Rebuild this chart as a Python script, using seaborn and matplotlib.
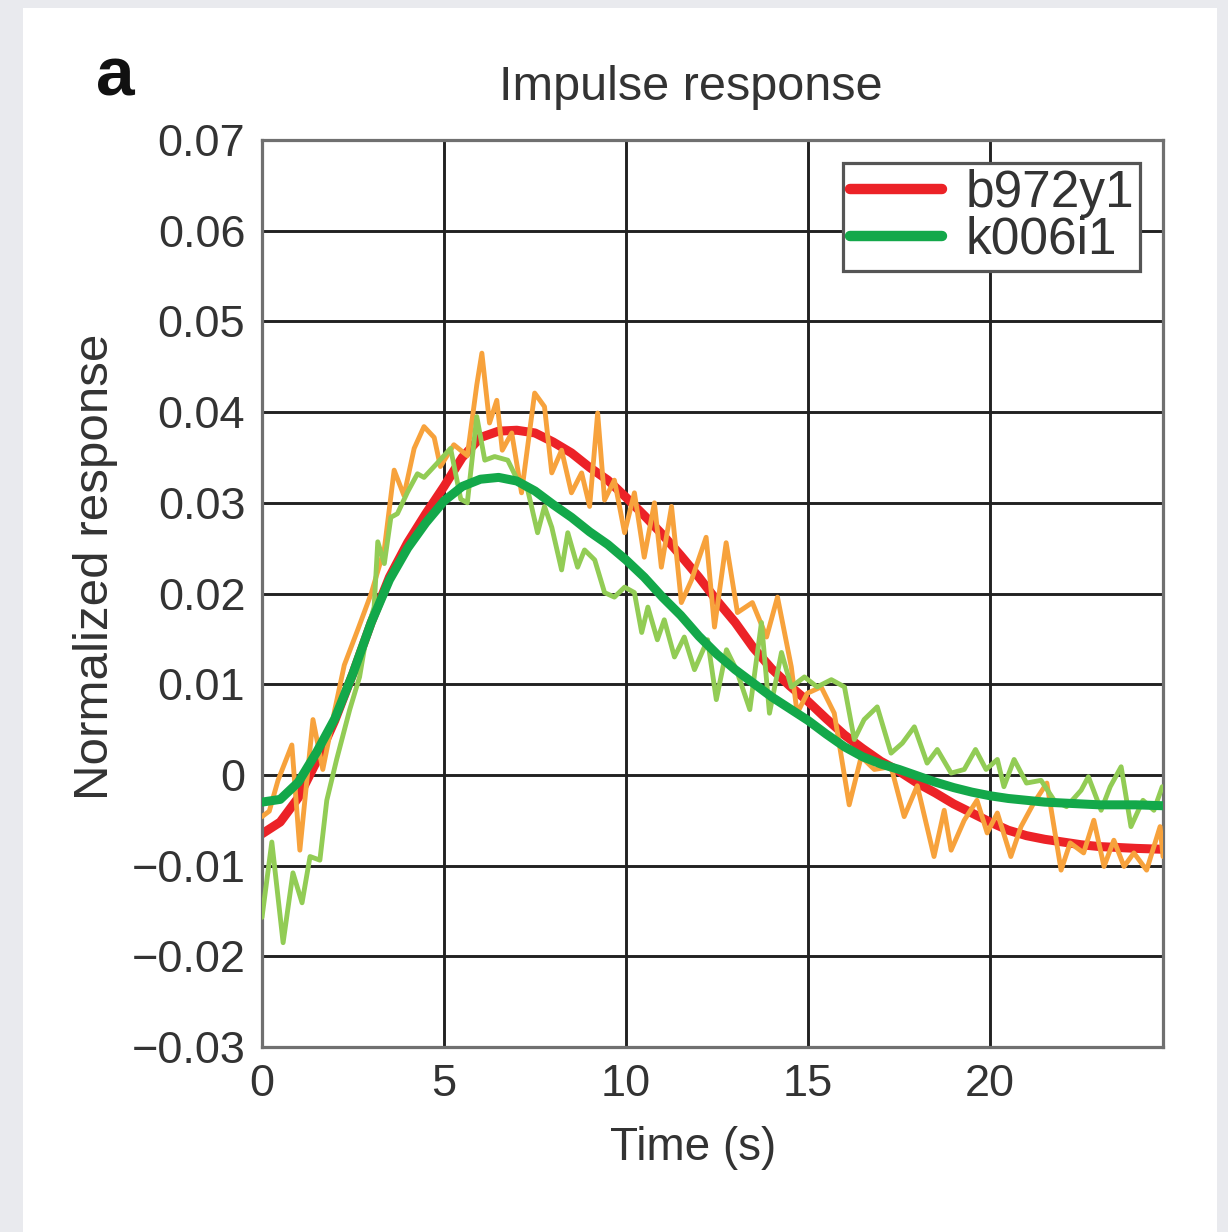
import numpy as np
import pandas as pd
import matplotlib
matplotlib.use("Agg")
import matplotlib.pyplot as plt
from matplotlib.patches import Rectangle
import seaborn as sns

# ---------------- data ----------------
fit_t = [0, 0.5, 1.0, 1.5, 2.0, 2.5, 3.0, 3.5, 4.0, 4.5, 5.0, 5.5, 6.0, 6.5, 7.0,
         7.5, 8.0, 8.5, 9.0, 9.5, 10, 10.5, 11, 11.5, 12, 12.5, 13, 13.5, 14, 14.5,
         15, 15.5, 16, 16.5, 17, 17.5, 18, 18.5, 19, 19.5, 20, 20.5, 21, 21.5, 22,
         22.5, 23, 23.5, 24, 24.75]
fit_b972y1 = [-0.0065, -0.0052, -0.0025, 0.0015, 0.0060, 0.0112, 0.0168, 0.0218, 0.0256,
              0.0288, 0.0318, 0.0350, 0.0372, 0.0379, 0.0380, 0.0377, 0.0367, 0.0355,
              0.0339, 0.0325, 0.0306, 0.0286, 0.0265, 0.0242, 0.0218, 0.0192, 0.0168,
              0.0140, 0.0117, 0.0098, 0.0081, 0.0062, 0.0044, 0.0029, 0.0015, 0.0004,
              -0.0009, -0.0020, -0.0032, -0.0042, -0.0052, -0.0061, -0.0067, -0.0071,
              -0.0074, -0.0077, -0.0079, -0.0080, -0.0081, -0.0082]
fit_k006i1 = [-0.0030, -0.0027, -0.0008, 0.0025, 0.0062, 0.0112, 0.0168, 0.0215, 0.0250,
              0.0278, 0.0302, 0.0318, 0.0326, 0.0328, 0.0324, 0.0313, 0.0298, 0.0284,
              0.0268, 0.0254, 0.0237, 0.0218, 0.0196, 0.0176, 0.0153, 0.0133, 0.0116,
              0.0101, 0.0086, 0.0073, 0.0060, 0.0045, 0.0031, 0.0020, 0.0012, 0.0006,
              -0.0001, -0.0008, -0.0014, -0.0019, -0.0023, -0.0026, -0.0028, -0.0030,
              -0.0031, -0.0032, -0.0033, -0.0033, -0.0033, -0.0034]

raw_b_t = [0.0, 0.2, 0.44, 0.82, 1.04, 1.4, 1.67, 1.99, 2.26, 2.63, 3.0, 3.36, 3.63, 3.9,
           4.18, 4.45, 4.73, 4.9, 5.27, 5.64, 5.9, 6.04, 6.25, 6.45, 6.6, 6.86, 7.13,
           7.49, 7.76, 7.96, 8.23, 8.5, 8.78, 9.0, 9.22, 9.41, 9.68, 9.96, 10.23, 10.5,
           10.78, 10.97, 11.25, 11.52, 11.8, 12.2, 12.43, 12.75, 13.06, 13.47, 13.86,
           14.16, 14.54, 14.7, 14.98, 15.36, 15.72, 16.13, 16.46, 16.82, 17.28, 17.64,
           18.0, 18.46, 18.74, 18.93, 19.29, 19.64, 19.92, 20.2, 20.57, 20.85, 21.2,
           21.56, 21.95, 22.2, 22.57, 22.85, 23.13, 23.4, 23.68, 23.95, 24.3, 24.67, 24.75]
raw_b_y = [-0.0046, -0.0040, -0.0006, 0.0033, -0.0083, 0.0061, 0.0006, 0.0070, 0.0121,
           0.0160, 0.0200, 0.0249, 0.0336, 0.0308, 0.0360, 0.0384, 0.0372, 0.0340, 0.0364,
           0.0352, 0.0430, 0.0465, 0.0388, 0.0413, 0.0358, 0.0377, 0.0311, 0.0421, 0.0406,
           0.0333, 0.0358, 0.0311, 0.0333, 0.0296, 0.0399, 0.0303, 0.0325, 0.0267, 0.0311,
           0.0240, 0.0300, 0.0229, 0.0296, 0.0190, 0.0215, 0.0262, 0.0163, 0.0256, 0.0179,
           0.0190, 0.0152, 0.0196, 0.0119, 0.0068, 0.0090, 0.0097, 0.0068, -0.0033, 0.0020,
           0.0006, 0.0009, -0.0046, -0.0012, -0.0090, -0.0039, -0.0083, -0.0050, -0.0028,
           -0.0064, -0.0042, -0.0090, -0.0057, -0.0031, -0.0009, -0.0105, -0.0075, -0.0086,
           -0.0050, -0.0101, -0.0072, -0.0101, -0.0086, -0.0105, -0.0057, -0.0090]

raw_k_t = [0.0, 0.27, 0.58, 0.85, 1.1, 1.32, 1.59, 1.78, 2.05, 2.41, 2.68, 2.9, 3.08, 3.18,
           3.36, 3.54, 3.72, 4.0, 4.27, 4.45, 4.82, 5.18, 5.46, 5.64, 5.9, 6.12, 6.39, 6.75,
           7.02, 7.3, 7.57, 7.76, 7.96, 8.23, 8.4, 8.67, 8.86, 9.14, 9.41, 9.68, 9.96,
           10.23, 10.43, 10.6, 10.86, 11.05, 11.33, 11.6, 11.88, 12.24, 12.48, 12.76, 13.03,
           13.4, 13.72, 13.94, 14.27, 14.54, 14.9, 15.25, 15.64, 16.0, 16.27, 16.54, 16.9,
           17.28, 17.59, 17.92, 18.27, 18.55, 18.93, 19.29, 19.6, 19.89, 20.2, 20.38, 20.66,
           21.0, 21.4, 21.76, 22.1, 22.5, 22.7, 23.05, 23.3, 23.6, 23.87, 24.2, 24.5, 24.73]
raw_k_y = [-0.0157, -0.0074, -0.0185, -0.0108, -0.0141, -0.0090, -0.0094, -0.0028, 0.0017,
           0.0072, 0.0108, 0.0160, 0.0185, 0.0257, 0.0233, 0.0284, 0.0288, 0.0312, 0.0332,
           0.0328, 0.0344, 0.0360, 0.0304, 0.0300, 0.0395, 0.0347, 0.0351, 0.0347, 0.0325,
           0.0314, 0.0267, 0.0296, 0.0273, 0.0226, 0.0267, 0.0229, 0.0248, 0.0237, 0.0201,
           0.0196, 0.0207, 0.0201, 0.0157, 0.0185, 0.0149, 0.0171, 0.0130, 0.0152, 0.0116,
           0.0149, 0.0083, 0.0138, 0.0116, 0.0072, 0.0168, 0.0068, 0.0135, 0.0097, 0.0108,
           0.0097, 0.0105, 0.0097, 0.0039, 0.0061, 0.0075, 0.0024, 0.0035, 0.0053, 0.0013,
           0.0028, 0.0002, 0.0006, 0.0028, 0.0006, 0.0017, -0.0013, 0.0017, -0.0009, -0.0006,
           -0.0028, -0.0035, -0.0017, -0.0002, -0.0039, -0.0013, 0.0009, -0.0057, -0.0028,
           -0.0039, -0.0013]

labels = ["b972y1", "k006i1"]
x_ticks = [0, 5, 10, 15, 20]
y_ticks = [-0.03, -0.02, -0.01, 0, 0.01, 0.02, 0.03, 0.04, 0.05, 0.06, 0.07]
y_tick_labels = ["\u22120.03", "\u22120.02", "\u22120.01", "0", "0.01", "0.02", "0.03",
                 "0.04", "0.05", "0.06", "0.07"]

# ---------------- style ----------------
sns.set_theme(style="white")
plt.rcParams["font.family"] = ["Liberation Sans", "DejaVu Sans"]

C_RAW_B = "#f7a23c"
C_RAW_K = "#92cc55"
C_FIT_B = "#ec2227"
C_FIT_K = "#13a84a"
TXT = "#333333"

fig = plt.figure(figsize=(12.28, 12.32), dpi=100, facecolor="#e9eaee")
bg = Rectangle((23 / 1228, 0), (1217 - 23) / 1228, (1232 - 8) / 1232,
               transform=fig.transFigure, facecolor="white", edgecolor="none",
               zorder=-10)
fig.patches.append(bg)
ax = fig.add_axes([262 / 1228, 1 - 1047 / 1232, (1163 - 262) / 1228, (1047 - 140) / 1232])
ax.set_zorder(5)
ax.set_facecolor("white")

df_rb = pd.DataFrame({"t": raw_b_t, "y": raw_b_y})
df_rk = pd.DataFrame({"t": raw_k_t, "y": raw_k_y})
df_fb = pd.DataFrame({"t": fit_t, "y": fit_b972y1, "series": labels[0]})
df_fk = pd.DataFrame({"t": fit_t, "y": fit_k006i1, "series": labels[1]})

sns.lineplot(data=df_fb, x="t", y="y", hue="series", ax=ax,
             palette={labels[0]: C_FIT_B}, lw=6.5, estimator=None, sort=False, zorder=2.5)
sns.lineplot(data=df_rb, x="t", y="y", ax=ax, color=C_RAW_B, lw=3.5,
             estimator=None, sort=False, zorder=3, legend=False)
sns.lineplot(data=df_rk, x="t", y="y", ax=ax, color=C_RAW_K, lw=3.5,
             estimator=None, sort=False, zorder=3.2, legend=False)
sns.lineplot(data=df_fk, x="t", y="y", hue="series", ax=ax,
             palette={labels[1]: C_FIT_K}, lw=6.5, estimator=None, sort=False, zorder=4)

ax.set_xlim(0, 24.75)
ax.set_ylim(-0.03, 0.07)
ax.set_xticks(x_ticks)
ax.set_xticklabels([str(v) for v in x_ticks])
ax.set_yticks(y_ticks)
ax.set_yticklabels(y_tick_labels)
ax.grid(True, color="#222222", lw=2.1, zorder=1)
ax.set_axisbelow(True)
ax.tick_params(length=0, labelsize=32.5, colors=TXT, pad=12)
for sp in ax.spines.values():
    sp.set_color("#707070")
    sp.set_linewidth(2.3)
    sp.set_visible(True)

ax.set_xlabel("Time (s)", fontsize=33, color=TXT)
ax.xaxis.set_label_coords((693 - 262) / 901, -(1126 - 1047) / 907)
ax.set_ylabel("Normalized response", fontsize=35.5, color=TXT)
ax.yaxis.set_label_coords((118 - 262) / 901, (1047 - 567) / 907)

fig.text(691 / 1228, 1 - 88 / 1232, "Impulse response", fontsize=35, color=TXT,
         ha="center", va="center")
fig.text(115 / 1228, 1 - 78 / 1232, "a", fontsize=50, fontweight="bold",
         color="#111111", ha="center", va="center")

handles, leg_labels = ax.get_legend_handles_labels()
leg = ax.legend(handles, leg_labels, loc="upper right", bbox_to_anchor=(0.9745, 0.9746),
                borderaxespad=0, fontsize=37, frameon=True, fancybox=False,
                handlelength=1.8, handletextpad=0.45, labelspacing=-0.05,
                borderpad=0.12)
leg.set_zorder(10)
leg.get_frame().set_edgecolor("#555555")
leg.get_frame().set_linewidth(2.3)
leg.get_frame().set_alpha(1)
for line in leg.get_lines():
    line.set_linewidth(7.5)
    line.set_solid_capstyle("round")
for t in leg.get_texts():
    t.set_color(TXT)

fig.savefig("out.png", dpi=100, facecolor=fig.get_facecolor())
